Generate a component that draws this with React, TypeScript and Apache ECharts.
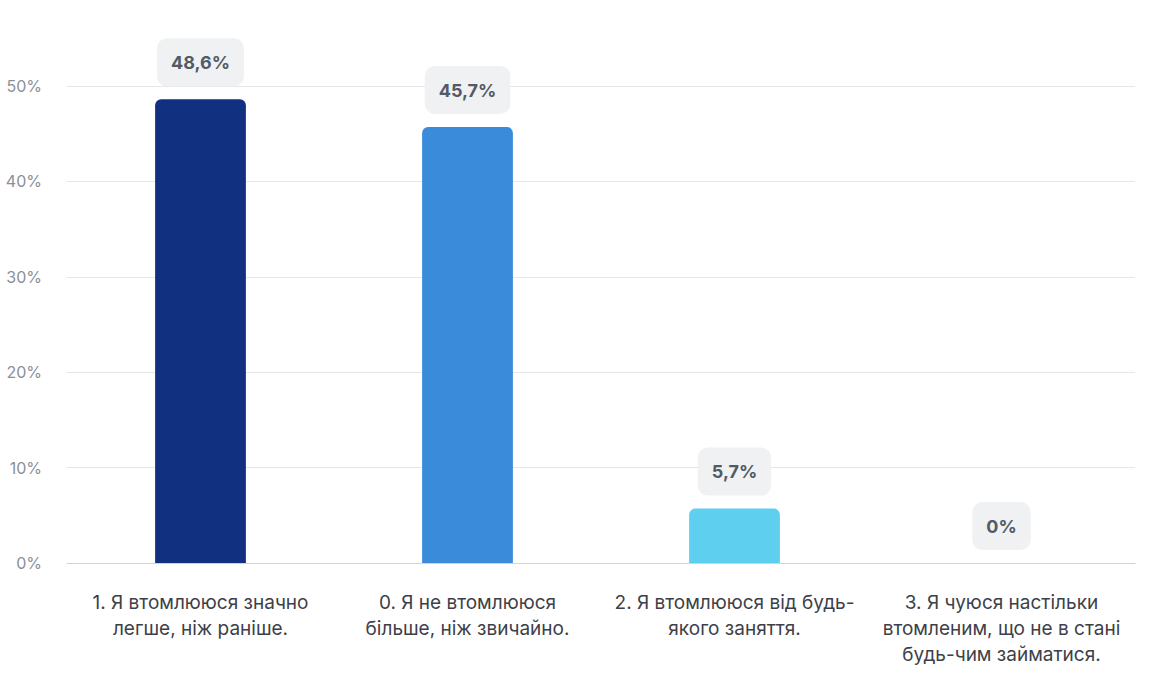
import React, { useEffect, useRef } from "react";
import * as echarts from "echarts";

const categories = [
  "1. Я втомлююся значно\nлегше, ніж раніше.",
  "0. Я не втомлююся\nбільше, ніж звичайно.",
  "2. Я втомлююся від будь-\nякого заняття.",
  "3. Я чуюся настільки\nвтомленим, що не в стані\nбудь-чим займатися.",
];
const values = [48.6, 45.7, 5.7, 0];
const barColors = ["#11307f", "#3a8bd9", "#5ecfef", "#9aa4b0"];
const yTicks = [0, 10, 20, 30, 40, 50];

export default function App() {
  const ref = useRef<HTMLDivElement>(null);
  useEffect(() => {
    if (!ref.current) return;
    const chart = echarts.init(ref.current, null, { renderer: "svg" });
    const font = "Inter, 'Noto Sans', sans-serif";
    chart.setOption({
      animation: false,
      grid: { left: 67, right: 20, top: 86, bottom: 129 },
      xAxis: {
        type: "category",
        data: categories,
        axisTick: { show: false },
        axisLine: { lineStyle: { color: "#c9d3ee", width: 1 } },
        axisLabel: {
          interval: 0,
          margin: 26,
          fontSize: 19,
          lineHeight: 26,
          color: "#3d4048",
          fontFamily: font,
          align: "center",
        },
      },
      yAxis: {
        type: "value",
        min: yTicks[0],
        max: yTicks[yTicks.length - 1],
        interval: 10,
        axisLine: { show: false },
        axisTick: { show: false },
        splitLine: { lineStyle: { color: "#e5e6ea", width: 1 } },
        axisLabel: {
          formatter: "{value}%",
          margin: 25,
          fontSize: 16,
          color: "#8b8f98",
          fontFamily: font,
        },
      },
      series: [
        {
          type: "bar",
          barWidth: "34%",
          data: values.map((v, i) => ({
            value: v,
            itemStyle: { color: barColors[i], borderRadius: [6, 6, 0, 0] },
          })),
          label: {
            show: true,
            position: "top",
            distance: 13,
            formatter: (p: any) => String(p.value).replace(".", ",") + "%",
            fontSize: 18,
            fontWeight: "bold",
            color: "#515b67",
            fontFamily: font,
            backgroundColor: "#f0f1f2",
            borderRadius: 10,
            padding: [15, 14, 15, 14],
          },
        },
      ],
    });
    return () => chart.dispose();
  }, []);
  return (
    <div
      ref={ref}
      style={{ position: "fixed", left: 0, top: 0, width: 1155, height: 692, background: "#fff" }}
    />
  );
}
